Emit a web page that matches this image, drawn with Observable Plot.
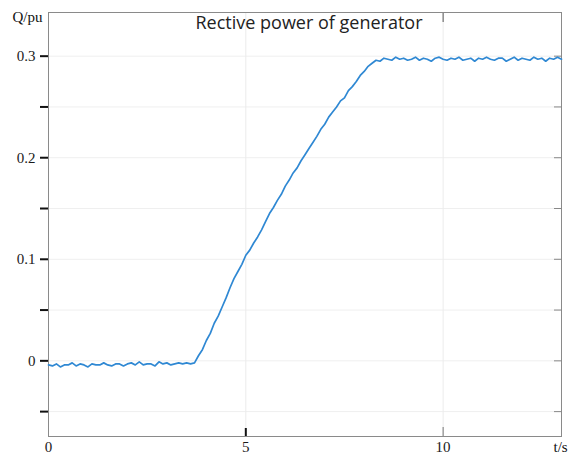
<!DOCTYPE html>
<html>
<head>
<meta charset="utf-8">
<script src="https://cdn.jsdelivr.net/npm/d3@7"></script>
<script src="https://cdn.jsdelivr.net/npm/@observablehq/plot@0.6"></script>
<style>
  html, body { margin: 0; padding: 0; background: #fff; }
  #chart svg { display: block; }
</style>
</head>
<body>
<div id="chart"></div>
<script>
const title = "Rective power of generator";
const yAxisTitle = "Q/pu";
const xAxisTitle = "t/s";

const xLabelTicks = [0, 5, 10];
const yLabelTicks = [0, 0.1, 0.2, 0.3];
const yMinorTicks = [-0.05, 0, 0.05, 0.1, 0.15, 0.2, 0.25, 0.3];
const xGrid = [5, 10];

const times = [
  0.0, 0.1, 0.2, 0.3, 0.4, 0.5, 0.6, 0.7, 0.8, 0.9,
  1.0, 1.1, 1.2, 1.3, 1.4, 1.5, 1.6, 1.7, 1.8, 1.9,
  2.0, 2.1, 2.2, 2.3, 2.4, 2.5, 2.6, 2.7, 2.8, 2.9,
  3.0, 3.1, 3.2, 3.3, 3.4, 3.5, 3.6, 3.7, 3.8, 3.9,
  4.0, 4.1, 4.2, 4.3, 4.4, 4.5, 4.6, 4.7, 4.8, 4.9,
  5.0, 5.1, 5.2, 5.3, 5.4, 5.5, 5.6, 5.7, 5.8, 5.9,
  6.0, 6.1, 6.2, 6.3, 6.4, 6.5, 6.6, 6.7, 6.8, 6.9,
  7.0, 7.1, 7.2, 7.3, 7.4, 7.5, 7.6, 7.7, 7.8, 7.9,
  8.0, 8.1, 8.2, 8.3, 8.4, 8.5, 8.6, 8.7, 8.8, 8.9,
  9.0, 9.1, 9.2, 9.3, 9.4, 9.5, 9.6, 9.7, 9.8, 9.9,
  10.0, 10.1, 10.2, 10.3, 10.4, 10.5, 10.6, 10.7, 10.8, 10.9,
  11.0, 11.1, 11.2, 11.3, 11.4, 11.5, 11.6, 11.7, 11.8, 11.9,
  12.0, 12.1, 12.2, 12.3, 12.4, 12.5, 12.6, 12.7, 12.8, 12.9,
  13.0
];

const reactivePower = [
  -0.004, -0.005, -0.003, -0.006, -0.004, -0.004, -0.002, -0.005, -0.003, -0.004,
  -0.006, -0.003, -0.004, -0.004, -0.002, -0.004, -0.005, -0.003, -0.003, -0.005,
  -0.003, -0.002, -0.004, -0.001, -0.004, -0.003, -0.003, -0.005, -0.001, -0.003,
  -0.002, -0.004, -0.003, -0.002, -0.003, -0.002, -0.003, -0.002, 0.005, 0.011,
  0.020, 0.027, 0.037, 0.044, 0.053, 0.062, 0.072, 0.081, 0.088, 0.095,
  0.104, 0.109, 0.116, 0.122, 0.129, 0.137, 0.145, 0.151, 0.158, 0.164,
  0.172, 0.178, 0.185, 0.190, 0.197, 0.203, 0.209, 0.215, 0.221, 0.228,
  0.233, 0.240, 0.245, 0.250, 0.256, 0.259, 0.266, 0.270, 0.275, 0.281,
  0.285, 0.290, 0.293, 0.296, 0.295, 0.298, 0.297, 0.296, 0.299, 0.297,
  0.298, 0.296, 0.297, 0.299, 0.296, 0.298, 0.297, 0.295, 0.298, 0.299,
  0.297, 0.296, 0.298, 0.297, 0.299, 0.296, 0.297, 0.298, 0.295, 0.298,
  0.297, 0.299, 0.297, 0.296, 0.298, 0.298, 0.295, 0.297, 0.299, 0.296,
  0.298, 0.297, 0.296, 0.299, 0.297, 0.298, 0.295, 0.298, 0.297, 0.299,
  0.297
];

const data = times.map((t, i) => ({t, q: reactivePower[i]}));

const serif = "'Liberation Serif', 'DejaVu Serif', serif";

const chart = Plot.plot({
  width: 569,
  height: 457,
  marginLeft: 48,
  marginRight: 8,
  marginTop: 12,
  marginBottom: 21,
  style: {fontFamily: serif, fontSize: "15px", color: "#1a1a1a", background: "#fff"},
  x: {domain: [0, 13], label: null},
  y: {domain: [-0.0745, 0.343], label: null},
  marks: [
    Plot.ruleY(yMinorTicks, {stroke: "#efefef", strokeWidth: 1}),
    Plot.ruleX(xGrid, {stroke: "#ececec", strokeWidth: 1}),
    Plot.frame({stroke: "#8a8a8a", strokeWidth: 1}),
    Plot.axisY(yMinorTicks, {anchor: "left", tickSize: 8, stroke: "#111", strokeWidth: 2, fill: "none", label: null}),
    Plot.axisY(yLabelTicks, {anchor: "left", tickSize: 0, tickPadding: 13, tickFormat: d => String(d), label: null, fontFamily: serif, fontSize: 15}),
    Plot.axisY(yMinorTicks, {anchor: "right", tickSize: 8, dx: -8, stroke: "#888", fill: "none", label: null}),
    Plot.axisX(xLabelTicks, {anchor: "bottom", tickSize: 0, tickPadding: 5, tickFormat: d => String(d), label: null, fontFamily: serif, fontSize: 15}),
    Plot.axisX([5], {anchor: "bottom", tickSize: 8, dy: -8, stroke: "#111", strokeWidth: 2, fill: "none", label: null}),
    Plot.axisX([10], {anchor: "bottom", tickSize: 9, dy: -9, stroke: "#777", fill: "none", label: null}),
    Plot.axisX([10], {anchor: "top", tickSize: 9, dy: 9, stroke: "#555", fill: "none", label: null}),
    Plot.line(data, {x: "t", y: "q", stroke: "#2f88d3", strokeWidth: 1.7}),
    Plot.text([title], {text: d => d, frameAnchor: "top", lineAnchor: "top", dx: 4, dy: 4, fontFamily: "'Open Sans', 'Liberation Sans', sans-serif", fontSize: 18, fill: "#222"}),
    Plot.text([yAxisTitle], {text: d => d, frameAnchor: "top-left", textAnchor: "end", lineAnchor: "bottom", dx: -6, dy: 9, fontFamily: serif, fontSize: 15, fill: "#111"}),
    Plot.text([xAxisTitle], {text: d => d, frameAnchor: "bottom-right", textAnchor: "start", lineAnchor: "top", dx: -8, dy: 5, fontFamily: serif, fontSize: 15, fill: "#111"})
  ]
});

document.getElementById("chart").appendChild(chart);
</script>
</body>
</html>
